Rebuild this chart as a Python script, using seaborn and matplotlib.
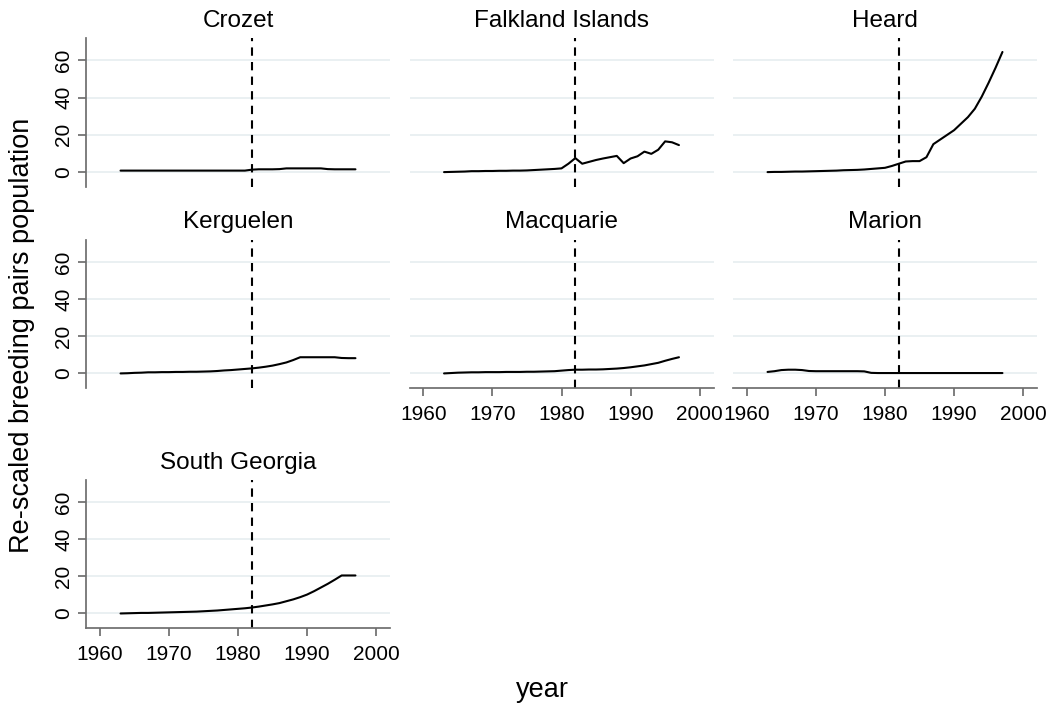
import matplotlib
matplotlib.use("Agg")
import matplotlib.pyplot as plt
import seaborn as sns
import pandas as pd
import numpy as np

years = list(range(1963, 1998))
islands = ["Crozet", "Falkland Islands", "Heard", "Kerguelen",
           "Macquarie", "Marion", "South Georgia"]

crozet = [0.8] * 19 + [1.3, 1.5, 1.5, 1.5, 1.6, 2.0, 2.0, 2.0, 2.0, 2.0, 2.0, 1.6, 1.5, 1.5, 1.5, 1.5]
falkland = [0.0, 0.1, 0.2, 0.3, 0.5, 0.5, 0.6, 0.6, 0.7, 0.7, 0.8, 0.8, 0.9, 1.1, 1.3, 1.5,
            1.7, 2.0, 4.5, 7.5, 4.5, 5.5, 6.5, 7.3, 8.0, 8.7, 4.8, 7.3, 8.5, 11.0, 9.8,
            12.0, 16.5, 16.0, 14.5]
heard = [0.0, 0.1, 0.1, 0.2, 0.3, 0.3, 0.4, 0.5, 0.6, 0.7, 0.8, 1.0, 1.1, 1.2, 1.4, 1.7,
         2.0, 2.3, 3.3, 4.5, 5.7, 5.9, 5.9, 8.0, 15.0, 17.5, 20.0, 22.5, 26.0, 29.5, 34.0,
         40.5, 48.0, 56.0, 64.5]
kerguelen = [0.0, 0.1, 0.3, 0.4, 0.6, 0.6, 0.7, 0.7, 0.8, 0.8, 0.9, 0.9, 1.0, 1.1, 1.3, 1.6,
             1.8, 2.1, 2.4, 2.7, 3.1, 3.6, 4.2, 5.0, 5.9, 7.2, 8.7, 8.7, 8.7, 8.7, 8.7,
             8.7, 8.3, 8.2, 8.2]
macquarie = [0.0, 0.2, 0.4, 0.5, 0.6, 0.6, 0.7, 0.7, 0.7, 0.8, 0.8, 0.8, 0.9, 0.9, 1.0, 1.1,
             1.2, 1.5, 1.8, 2.0, 2.0, 2.1, 2.1, 2.2, 2.4, 2.6, 2.9, 3.3, 3.8, 4.3, 5.0,
             5.7, 6.8, 7.8, 8.7]
marion = [0.8, 1.2, 1.8, 2.0, 2.0, 1.8, 1.3, 1.2, 1.2, 1.2, 1.2, 1.2, 1.2, 1.2, 1.1, 0.3,
          0.2, 0.2, 0.2, 0.2, 0.2, 0.2, 0.2, 0.2, 0.2, 0.2, 0.2, 0.2, 0.2, 0.2, 0.2,
          0.2, 0.2, 0.2, 0.2]
south_georgia = [0.0, 0.1, 0.2, 0.3, 0.3, 0.4, 0.5, 0.6, 0.7, 0.8, 0.9, 1.0, 1.2, 1.4, 1.6,
                 1.9, 2.2, 2.5, 2.8, 3.2, 3.7, 4.3, 4.9, 5.6, 6.6, 7.6, 8.8, 10.2, 12.0,
                 14.0, 16.0, 18.2, 20.5, 20.5, 20.5]

x_ticks = [1960, 1970, 1980, 1990, 2000]
y_ticks = [0, 20, 40, 60]
ban_year = 1982

series = [crozet, falkland, heard, kerguelen, macquarie, marion, south_georgia]
df = pd.DataFrame({
    "year": years * len(islands),
    "pop": np.concatenate(series),
    "island": np.repeat(islands, len(years)),
})

sns.set_theme(style="white")
plt.rcParams["font.family"] = ["Liberation Sans", "DejaVu Sans"]
plt.rcParams["text.color"] = "black"
plt.rcParams["xtick.labelcolor"] = "black"
plt.rcParams["ytick.labelcolor"] = "black"

g = sns.FacetGrid(df, col="island", col_wrap=3, col_order=islands,
                  sharex=True, sharey=True, height=2, aspect=1.5)
g.map_dataframe(sns.lineplot, x="year", y="pop", color="black", linewidth=1.5)
g.figure.set_size_inches(10.52, 7.06)

W, H = 1052, 706
lefts = [86, 409.5, 733]
rows = [(38, 187), (239.5, 388.3), (480, 628.3)]
axis_col = "#6e6e6e"

for i, ax in enumerate(g.axes.flat):
    r, c = divmod(i, 3)
    top, bot = rows[r]
    ax.set_position([lefts[c] / W, 1 - bot / H, 304 / W, (bot - top) / H])
    ax.set_xlim(1958, 2002)
    ax.set_ylim(-8, 72)
    ax.set_xticks(x_ticks)
    ax.set_yticks(y_ticks)
    ax.yaxis.grid(True, color="#e6eef0", linewidth=1.2)
    ax.set_axisbelow(True)
    ax.axvline(ban_year, color="black", linewidth=1.5, linestyle=(0, (4, 3)))
    ax.set_title(islands[i], fontsize=17.5, pad=8, color="black")
    ax.set_xlabel("")
    ax.set_ylabel("")
    for s in ["top", "right"]:
        ax.spines[s].set_visible(False)
    show_x = i >= 4
    show_y = c == 0
    ax.spines["bottom"].set_visible(show_x)
    ax.spines["left"].set_visible(show_y)
    ax.spines["bottom"].set_color(axis_col)
    ax.spines["left"].set_color(axis_col)
    ax.tick_params(axis="x", bottom=show_x, labelbottom=show_x, length=6,
                   color=axis_col, labelsize=15, pad=6, labelcolor="black")
    ax.tick_params(axis="y", left=show_y, labelleft=show_y, length=6,
                   color=axis_col, labelsize=15, pad=3, labelcolor="black")
    if show_y:
        for lab in ax.get_yticklabels():
            lab.set_rotation(90)
            lab.set_va("center")

g.figure.text(22 / W, 1 - 335 / H, "Re-scaled breeding pairs population",
              rotation=90, ha="center", va="center", fontsize=19.5)
g.figure.text(542 / W, 1 - 690 / H, "year", ha="center", va="center", fontsize=19.5)

g.figure.savefig("out.png", dpi=100, facecolor="white")
